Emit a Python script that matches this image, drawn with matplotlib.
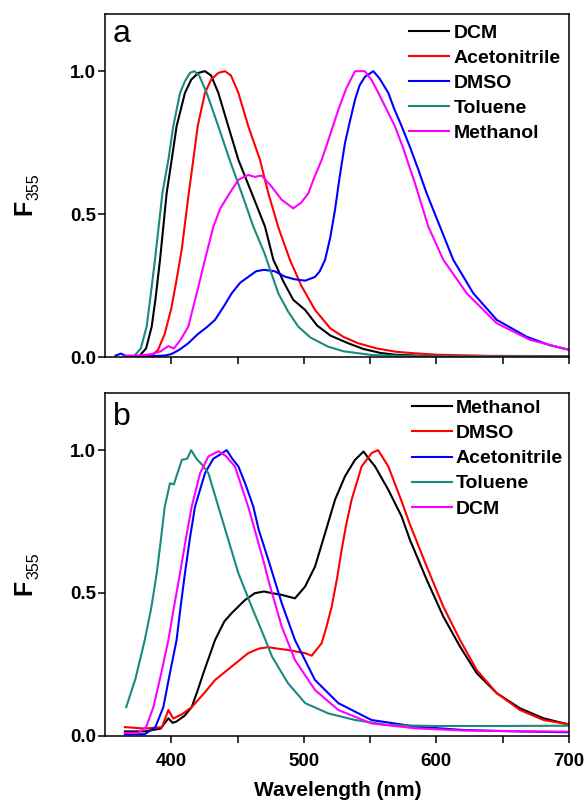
import matplotlib
matplotlib.use('Agg')
import matplotlib.pyplot as plt
from matplotlib.lines import Line2D

plt.rcParams['font.family'] = ['Liberation Sans', 'DejaVu Sans']

# ---------------- data: panel a ----------------
a_dcm_wl = [370, 376, 381, 385.2, 388, 391.5, 396.5, 400.3, 404, 410.3, 415, 420.4, 425.4, 430, 435.5,
            443, 450.6, 460.7, 470.7, 477, 485, 492, 500.9, 510, 520, 533.5, 545, 558, 569, 590, 620, 660, 700]
a_dcm = [0.0, 0.004, 0.03, 0.106, 0.2, 0.34, 0.573, 0.69, 0.807, 0.924, 0.97, 0.994, 1.0, 0.985, 0.924,
         0.807, 0.69, 0.573, 0.456, 0.34, 0.26, 0.2, 0.165, 0.11, 0.075, 0.048, 0.028, 0.014, 0.008, 0.004, 0.003, 0.002, 0.002]

a_acn_wl = [380, 385, 390, 395, 400, 404, 408, 412.8, 416.6, 419.9, 425.4, 430, 435.5, 440.5, 445,
            450.6, 458.1, 466.9, 473.2, 481, 489.5, 498, 508.4, 520, 530, 541, 555, 570, 583.8, 600, 640, 700]
a_acn = [0.0, 0.004, 0.025, 0.08, 0.17, 0.27, 0.38, 0.56, 0.69, 0.807, 0.924, 0.97, 0.994, 1.0, 0.985,
         0.924, 0.807, 0.69, 0.573, 0.45, 0.34, 0.25, 0.165, 0.1, 0.07, 0.048, 0.03, 0.018, 0.013, 0.008, 0.004, 0.003]

a_dmso_wl = [358, 362, 366, 380, 395, 400, 406, 412.8, 420, 427, 433, 440, 445.6, 452, 458, 464, 470,
             478, 485.8, 493, 500.9, 508.4, 512, 516, 520, 523.5, 527, 531, 535, 538.6, 542, 546, 552.4,
             557, 563.7, 568, 573.8, 580, 586, 592.6, 602.7, 612.7, 627.8, 645.5, 668, 685, 700]
a_dmso = [0.005, 0.012, 0.003, 0.002, 0.005, 0.01, 0.025, 0.048, 0.08, 0.105, 0.13, 0.18, 0.223, 0.26, 0.28,
          0.3, 0.305, 0.3, 0.281, 0.272, 0.267, 0.28, 0.3, 0.34, 0.42, 0.515, 0.63, 0.748, 0.83, 0.9, 0.95,
          0.98, 1.0, 0.975, 0.924, 0.87, 0.807, 0.735, 0.66, 0.573, 0.456, 0.34, 0.223, 0.13, 0.071, 0.042, 0.025]

a_tol_wl = [365, 372, 377, 381.4, 384, 387.7, 393.3, 397.8, 401.5, 406.6, 410.3, 414.1, 417.4, 421, 426.7,
            435.5, 444, 453.1, 461.9, 470.2, 480.7, 488, 495.8, 505, 518.4, 530, 551, 580, 620, 660, 700]
a_tol = [0.0, 0.003, 0.03, 0.106, 0.2, 0.34, 0.573, 0.69, 0.807, 0.924, 0.965, 0.994, 1.0, 0.985, 0.924,
         0.807, 0.69, 0.573, 0.456, 0.364, 0.223, 0.16, 0.106, 0.068, 0.036, 0.02, 0.007, 0.003, 0.002, 0.002, 0.002]

a_meoh_wl = [365, 375, 385, 392, 397.8, 402, 407, 412.8, 419.2, 425.4, 431.7, 437, 444, 450.6, 458, 463,
             468, 475, 483.3, 492, 498, 503.4, 508, 513.5, 520, 526, 532, 538.6, 546, 551, 556.2, 562,
             568.7, 575, 580, 583.8, 589, 593.9, 605.2, 622.8, 645.5, 670.6, 700]
a_meoh = [0.005, 0.005, 0.01, 0.02, 0.038, 0.03, 0.06, 0.106, 0.223, 0.34, 0.456, 0.52, 0.573, 0.62, 0.637,
          0.63, 0.635, 0.6, 0.55, 0.52, 0.54, 0.573, 0.63, 0.69, 0.78, 0.865, 0.94, 1.0, 1.0, 0.97, 0.924,
          0.87, 0.807, 0.73, 0.66, 0.608, 0.53, 0.456, 0.34, 0.223, 0.118, 0.06, 0.025]

# ---------------- data: panel b ----------------
b_meoh_wl = [365, 380, 392, 397.8, 401, 404, 410, 415.4, 420, 424.2, 433, 440, 445.5, 455.6, 463, 470,
             475, 483.3, 493.3, 500.9, 508.4, 516, 523.5, 531, 538.6, 545, 549, 553.7, 563.7, 573.8, 580,
             592.7, 605.2, 617.8, 630.4, 645.5, 663, 680.7, 698.3, 700]
b_meoh = [0.015, 0.015, 0.025, 0.061, 0.045, 0.05, 0.07, 0.1, 0.16, 0.219, 0.335, 0.4, 0.429, 0.475, 0.499,
          0.505, 0.5, 0.493, 0.481, 0.522, 0.592, 0.709, 0.826, 0.908, 0.966, 0.995, 0.97, 0.943, 0.861,
          0.767, 0.686, 0.546, 0.417, 0.312, 0.219, 0.149, 0.096, 0.061, 0.041, 0.04]

b_dmso_wl = [365, 380, 393, 397.8, 401.5, 408, 415.4, 425, 433, 445.5, 458, 466, 473.2, 480, 488.3, 500.9,
             505.9, 513.4, 517, 521, 525, 528.5, 532, 536, 543.6, 551.2, 556, 563.7, 573.8, 580, 592.7,
             605.2, 617.8, 630.4, 645.5, 663, 680.7, 698.3, 700]
b_dmso = [0.03, 0.025, 0.03, 0.09, 0.06, 0.075, 0.1, 0.15, 0.195, 0.242, 0.289, 0.305, 0.31, 0.305, 0.3,
          0.289, 0.28, 0.324, 0.38, 0.452, 0.55, 0.651, 0.74, 0.826, 0.943, 0.99, 1.0, 0.943, 0.82, 0.74,
          0.592, 0.452, 0.335, 0.23, 0.149, 0.09, 0.055, 0.041, 0.04]

b_acn_wl = [365, 380, 388, 394, 399, 404, 407, 410.3, 414, 417.9, 425.4, 431.7, 437, 441.8, 446, 450.6,
            456, 461.9, 466, 473.2, 483.3, 493.3, 508.4, 526, 551, 584, 620, 660, 700]
b_acn = [0.005, 0.005, 0.03, 0.1, 0.22, 0.335, 0.45, 0.569, 0.69, 0.802, 0.919, 0.97, 0.985, 1.0, 0.97,
         0.943, 0.88, 0.802, 0.72, 0.616, 0.464, 0.335, 0.195, 0.114, 0.055, 0.032, 0.02, 0.015, 0.012]

b_tol_wl = [366, 373, 380, 385, 389, 392, 395, 399, 402, 404, 408, 412, 415, 419, 423, 428, 435.5, 443,
            450.6, 460.6, 470, 476, 488, 501, 518.5, 538.6, 564, 600, 650, 700]
b_tol = [0.1, 0.2, 0.335, 0.45, 0.569, 0.68, 0.8, 0.884, 0.88, 0.91, 0.966, 0.97, 1.0, 0.97, 0.95, 0.919,
         0.802, 0.686, 0.569, 0.452, 0.347, 0.277, 0.184, 0.114, 0.078, 0.055, 0.037, 0.034, 0.034, 0.035]

b_dcm_wl = [365, 375, 381, 386.5, 392, 397.8, 402, 406.6, 411, 415.4, 421.7, 428, 435.5, 441, 448, 458,
            463, 470, 473.2, 483.3, 493.3, 508.4, 526, 551, 584, 620, 700]
b_dcm = [0.01, 0.01, 0.03, 0.1, 0.21, 0.335, 0.45, 0.569, 0.69, 0.802, 0.919, 0.978, 0.996, 0.98, 0.943,
         0.802, 0.72, 0.604, 0.545, 0.382, 0.265, 0.16, 0.09, 0.043, 0.026, 0.018, 0.014]

x_ticks = [400, 450, 500, 550, 600, 650, 700]
x_ticklabels = ['400', '', '500', '', '600', '', '700']
y_ticks = [0.0, 0.5, 1.0]
y_ticklabels = ['0.0', '0.5', '1.0']

BLACK, RED, BLUE, TEAL, MAG = 'black', '#ff0000', '#0000ff', '#1b8a7e', '#ff00ff'

panel_a = [('DCM', a_dcm_wl, a_dcm, BLACK), ('Acetonitrile', a_acn_wl, a_acn, RED),
           ('DMSO', a_dmso_wl, a_dmso, BLUE), ('Toluene', a_tol_wl, a_tol, TEAL),
           ('Methanol', a_meoh_wl, a_meoh, MAG)]
panel_b = [('Methanol', b_meoh_wl, b_meoh, BLACK), ('DMSO', b_dmso_wl, b_dmso, RED),
           ('Acetonitrile', b_acn_wl, b_acn, BLUE), ('Toluene', b_tol_wl, b_tol, TEAL),
           ('DCM', b_dcm_wl, b_dcm, MAG)]

W, H = 586, 802
fig = plt.figure(figsize=(W / 100, H / 100), dpi=100)


def px_axes(l, t, r, b):
    return [l / W, 1 - b / H, (r - l) / W, (b - t) / H]


ax1 = fig.add_axes(px_axes(105, 14, 569, 357))
ax2 = fig.add_axes(px_axes(105, 393, 569, 735.7))

LEG_FS = 14
for ax, series, leg_top, leg_x, show_x in [
        (ax1, panel_a, 24, 409, False),
        (ax2, panel_b, 399.5, 411.5, True)]:
    for name, wl, val, col in series:
        ax.plot(wl, val, color=col, lw=1.5, label=name)
    ax.set_xlim(350, 700)
    ax.set_ylim(0, 1.2)
    ax.set_xticks(x_ticks)
    ax.set_xticklabels(x_ticklabels if show_x else [''] * len(x_ticks))
    ax.set_yticks(y_ticks)
    ax.set_yticklabels(y_ticklabels)
    for s in ax.spines.values():
        s.set_linewidth(1.1)
    ax.tick_params(axis='both', direction='out', length=5, width=1.1, labelsize=13.5)
    ax.tick_params(axis='y', pad=1.5)
    ax.tick_params(axis='x', pad=7.5)
    for lab in ax.get_xticklabels() + ax.get_yticklabels():
        lab.set_fontweight('bold')
    handles = [Line2D([], [], color=c, lw=1.5) for _, _, _, c in series]
    names = [n for n, _, _, _ in series]
    ax.legend(handles, names, loc='upper left', bbox_to_anchor=(leg_x / W, 1 - leg_top / H),
              bbox_transform=fig.transFigure, frameon=False, borderpad=0, borderaxespad=0,
              handlelength=2.06, handletextpad=0.22, labelspacing=0.385,
              prop={'weight': 'bold', 'size': LEG_FS})

fig.text(113 / W, 1 - 41.7 / H, 'a', fontsize=23, va='baseline', ha='left')
fig.text(113 / W, 1 - 425 / H, 'b', fontsize=23, va='baseline', ha='left')

for yF, y355 in [(207, 187), (587.5, 565.5)]:
    fig.text(24 / W, 1 - yF / H, 'F', rotation=90, fontsize=18, fontweight='bold',
             ha='center', va='center')
    fig.text(34 / W, 1 - y355 / H, '355', rotation=90, fontsize=11.5,
             ha='center', va='center')

fig.text(337.5 / W, 1 - 790 / H, 'Wavelength (nm)', fontsize=15, fontweight='bold',
         ha='center', va='center')

fig.savefig('out.png', dpi=100)
